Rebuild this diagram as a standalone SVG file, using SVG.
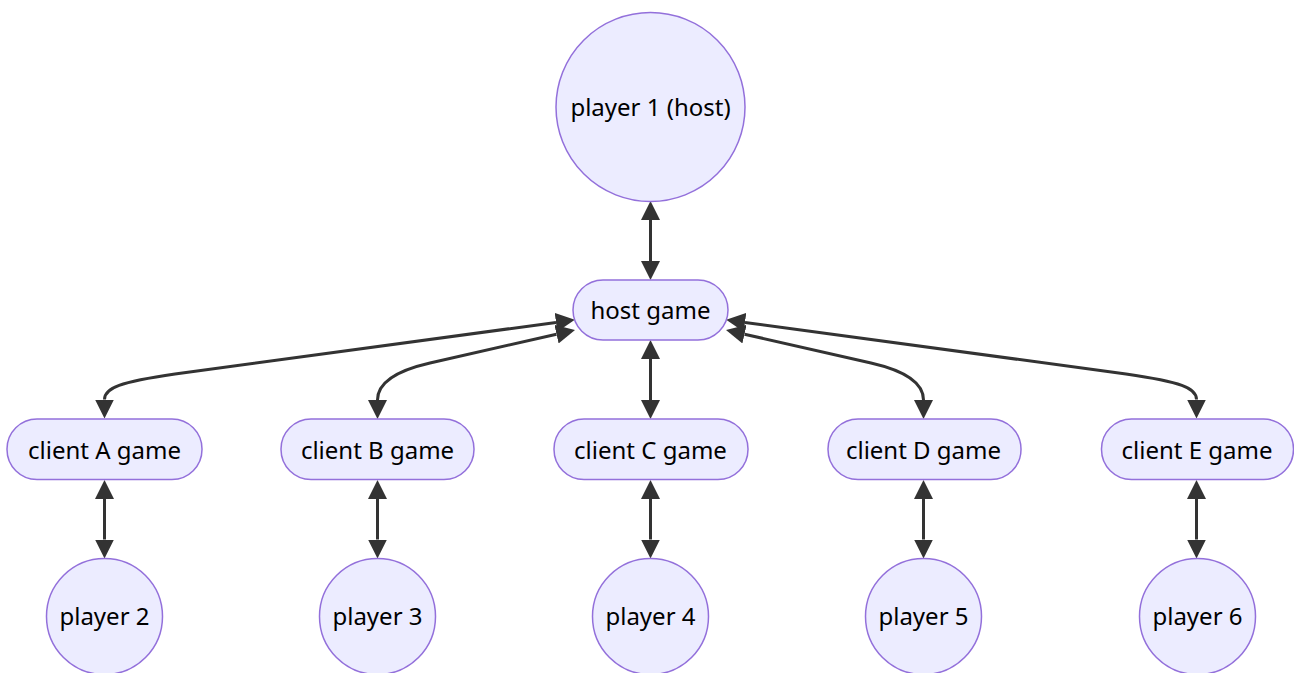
<svg xmlns="http://www.w3.org/2000/svg" width="1294" height="673" viewBox="0 0 1294 673">
<style>
.node{fill:#ECECFF;stroke:#9370DB;stroke-width:1.5}
.lbl{font-family:"Noto Sans","DejaVu Sans",sans-serif;font-size:24px;fill:#000;text-anchor:middle}
.edge{fill:none;stroke:#333;stroke-width:3}
</style>
<defs>
<marker id="arr" viewBox="0 0 10 10" refX="0" refY="5" markerUnits="userSpaceOnUse" markerWidth="19" markerHeight="19" orient="auto-start-reverse">
<path d="M0,0 L10,5 L0,10 z" fill="#333"/>
</marker>
</defs>
<rect width="1294" height="673" fill="#fff"/>
<g id="connectors">
<path class="edge" marker-start="url(#arr)" marker-end="url(#arr)" d="M650.5,220 L650.5,261"/>
<path class="edge" marker-start="url(#arr)" marker-end="url(#arr)" d="M650.5,359 L650.5,400"/>
<path class="edge" marker-start="url(#arr)" marker-end="url(#arr)" d="M556,322.4 L175,374 C120,382 104.5,388 104.5,399.5"/>
<path class="edge" marker-start="url(#arr)" marker-end="url(#arr)" d="M556.5,334.2 L430,363 C395,371 377.5,383 377.5,400"/>
<path class="edge" marker-start="url(#arr)" marker-end="url(#arr)" d="M744.5,334.2 L871,363 C906,371 923.5,383 923.5,400"/>
<path class="edge" marker-start="url(#arr)" marker-end="url(#arr)" d="M745,322.4 L1126,374 C1181,382 1196.5,388 1196.5,399.5"/>
<path class="edge" marker-start="url(#arr)" marker-end="url(#arr)" d="M104.5,499 L104.5,539.5"/>
<path class="edge" marker-start="url(#arr)" marker-end="url(#arr)" d="M377.5,499 L377.5,539.5"/>
<path class="edge" marker-start="url(#arr)" marker-end="url(#arr)" d="M650.5,499 L650.5,539.5"/>
<path class="edge" marker-start="url(#arr)" marker-end="url(#arr)" d="M923.5,499 L923.5,539.5"/>
<path class="edge" marker-start="url(#arr)" marker-end="url(#arr)" d="M1196.5,499 L1196.5,539.5"/>
</g>
<g id="player1"><circle class="node" cx="650.5" cy="107" r="94.5"/><text class="lbl" x="650.5" y="116">player 1 (host)</text></g>
<g id="hostgame"><rect class="node" x="573" y="280" width="155" height="60" rx="30"/><text class="lbl" x="650.5" y="318.5">host game</text></g>
<g id="clientA"><rect class="node" x="7" y="419" width="195" height="60.5" rx="30"/><text class="lbl" x="104.5" y="458.5">client A game</text></g>
<g id="clientB"><rect class="node" x="281" y="419" width="193" height="60.5" rx="30"/><text class="lbl" x="377.5" y="458.5">client B game</text></g>
<g id="clientC"><rect class="node" x="554" y="419" width="194" height="60.5" rx="30"/><text class="lbl" x="650.5" y="458.5">client C game</text></g>
<g id="clientD"><rect class="node" x="828" y="419" width="193" height="60.5" rx="30"/><text class="lbl" x="923.5" y="458.5">client D game</text></g>
<g id="clientE"><rect class="node" x="1101.5" y="419" width="192" height="60.5" rx="30"/><text class="lbl" x="1197" y="458.5">client E game</text></g>
<g id="player2"><circle class="node" cx="104.5" cy="616.5" r="58"/><text class="lbl" x="104.5" y="625">player 2</text></g>
<g id="player3"><circle class="node" cx="377.5" cy="616.5" r="58"/><text class="lbl" x="377.5" y="625">player 3</text></g>
<g id="player4"><circle class="node" cx="650.5" cy="616.5" r="58"/><text class="lbl" x="650.5" y="625">player 4</text></g>
<g id="player5"><circle class="node" cx="923.5" cy="616.5" r="58"/><text class="lbl" x="923.5" y="625">player 5</text></g>
<g id="player6"><circle class="node" cx="1197.5" cy="616.5" r="58"/><text class="lbl" x="1197.5" y="625">player 6</text></g>
</svg>
